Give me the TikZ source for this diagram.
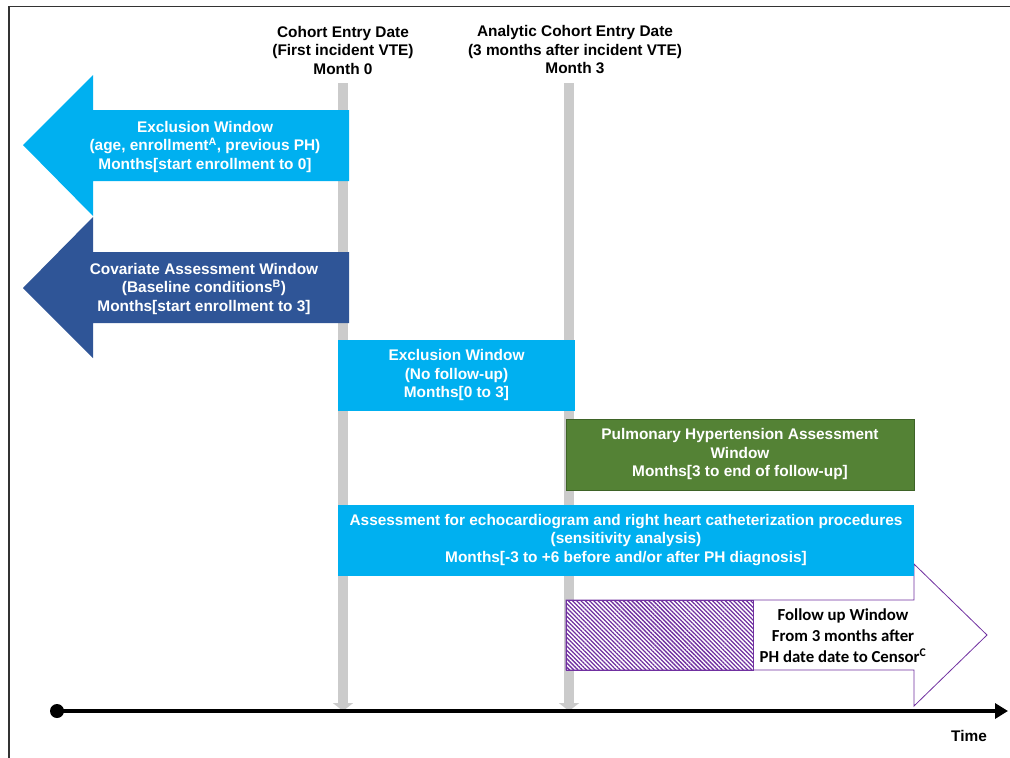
\documentclass[tikz,border=0pt]{standalone}
\usepackage{fontspec}
\setmainfont{Liberation Sans}
\newfontfamily\calibri{Carlito}
\usetikzlibrary{arrows.meta,patterns.meta}

\definecolor{exclblue}{HTML}{00B0F0}
\definecolor{covblue}{HTML}{2F5597}
\definecolor{phgreen}{HTML}{548235}
\definecolor{phborder}{HTML}{3E6327}
\definecolor{fuppurple}{HTML}{7030A0}
\definecolor{markgray}{HTML}{CBCBCB}
\definecolor{framegray}{HTML}{333333}

\tikzset{
	hdr/.style={font=\bfseries\fontsize{15.4}{18.5}\selectfont, align=center, inner sep=0pt},
	wtxt/.style={hdr, text=white},
	exclbox/.style={wtxt, fill=exclblue, minimum height=71},
	phbox/.style={wtxt, fill=phgreen, draw=phborder, minimum height=71},
	marker/.style={markgray, line width=10pt, -{Triangle[width=20pt,length=8pt]}},
	timeaxis/.style={line width=4pt, -{Triangle[width=15pt,length=13pt]}}
}

\begin{document}
\begin{tikzpicture}[x=1pt,y=-1pt]
		\useasboundingbox (0,0) rectangle (1010,758);
		% cornice
		\draw[framegray, line width=1.5pt] (9,758) -- (9,6.5) -- (1010,6.5);
		% date di ingresso
		\node[hdr] (cohort) at (343,50) {Cohort Entry Date\\(First incident VTE)\\Month 0};
		\node[hdr] (analytic) at (575,50) {Analytic Cohort Entry Date\\(3 months after incident VTE)\\Month 3};
		\coordinate (m0top) at (343,83);
		\coordinate (m0) at (343,711);
		\coordinate (m3top) at (569,83);
		\coordinate (m3) at (569,711);
		\draw[marker] (m0top) -- (m0);
		\draw[marker] (m3top) -- (m3);
		% finestre prima del mese 0
		\fill[exclblue] (349,110) -- (93,110) -- (93,75) -- (23,145) -- (93,216) -- (93,181) -- (349,181) -- cycle;
		\node[wtxt] (excl1) at (205,147) {Exclusion Window\\(age, enrollment\textsuperscript{A}, previous PH)\\Months[start enrollment to 0]};
		\fill[covblue] (349,252) -- (93,252) -- (93,217) -- (23,288) -- (93,358) -- (93,323) -- (349,323) -- cycle;
		\node[wtxt] (cov) at (204,289) {Covariate Assessment Window\\(Baseline conditions\textsuperscript{B})\\Months[start enrollment to 3]};
		% finestre dopo il mese 0
		\node[exclbox, minimum width=237] (excl2) at (456.5,375.5) {Exclusion Window\\(No follow-up)\\Months[0 to 3]};
		\node[phbox, minimum width=348] (phwin) at (740,454.5) {Pulmonary Hypertension Assessment\\Window\\Months[3 to end of follow-up]};
		% follow up
		\filldraw[draw=fuppurple, fill=white, thick]
		(566,600) --
		(914,600) --
		(914,564) --
		(987,635) --
		(914,706) --
		(914,670) --
		(566,670) --
		cycle;
		\filldraw[draw=fuppurple, thick, pattern={Lines[angle=-45,distance=3pt,line width=1.3pt]}, pattern color=fuppurple] (566,600) rectangle (753,670);
		\node[font=\calibri\bfseries\fontsize{16.8}{21}\selectfont, align=center, inner sep=0pt] (fup) at (843,636) {Follow up Window\\From 3 months after\\PH date date to Censor\textsuperscript{C}};
		\node[exclbox, minimum width=576] (echo) at (626,540) {Assessment for echocardiogram and right heart catheterization procedures\\(sensitivity analysis)\\Months[-3 to +6 before and/or after PH diagnosis]};
		% asse del tempo
		\coordinate (tstart) at (57,711);
		\coordinate (tend) at (1008,711);
		\draw[timeaxis] (tstart) -- (tend);
		\fill (tstart) circle (7);
		\node[hdr] (time) at (969,736) {Time};
	\end{tikzpicture}
\end{document}
